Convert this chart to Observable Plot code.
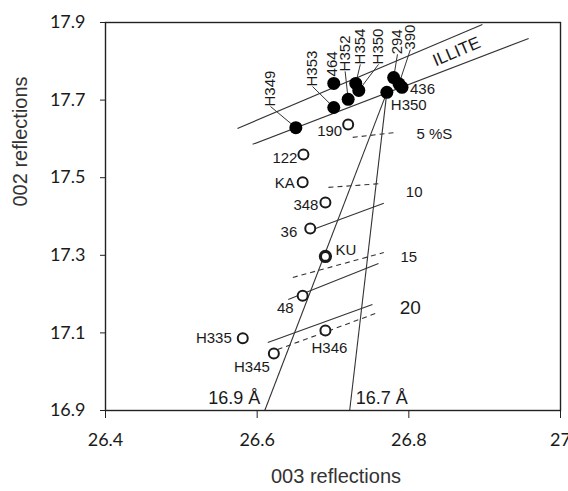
<!DOCTYPE html>
<html>
<head>
<meta charset="utf-8">
<script src="https://cdn.jsdelivr.net/npm/d3@7"></script>
<script src="https://cdn.jsdelivr.net/npm/@observablehq/plot@0.6"></script>
<style>
  html, body { margin: 0; padding: 0; background: #fff; }
</style>
</head>
<body>
<div id="chart"></div>
<script>
// ---------- data ----------
const xTicks = [26.4, 26.6, 26.8, 27.0];
const yTicks = [16.9, 17.1, 17.3, 17.5, 17.7, 17.9];

// filled (illite-rich) samples
const filledNames = ["H349", "H353", "464", "H352", "H354", "H350", "294", "390", "436", "H350b"];
const filledX = [26.651, 26.701, 26.701, 26.720, 26.730, 26.734, 26.780, 26.787, 26.791, 26.771];
const filledY = [17.629, 17.681, 17.743, 17.702, 17.743, 17.725, 17.758, 17.742, 17.733, 17.720];

// open (mixed-layer) samples
const openNames = ["190", "122", "KA", "348", "36", "KU", "48", "H346", "H335", "H345"];
const openX = [26.720, 26.661, 26.660, 26.690, 26.670, 26.690, 26.660, 26.690, 26.581, 26.622];
const openY = [17.637, 17.560, 17.488, 17.436, 17.369, 17.297, 17.196, 17.106, 17.086, 17.047];

// reference lines (endpoints in data units)
const illiteUpper = [[26.574, 17.627], [26.897, 17.895]];
const illiteLower = [[26.594, 17.586], [26.958, 17.859]];
const line169 = [[26.610, 16.900], [26.771, 17.720]];
const line167 = [[26.722, 16.900], [26.771, 17.720]];
const solidMix = [
  [[26.677, 17.369], [26.767, 17.434]],
  [[26.641, 17.186], [26.760, 17.279]],
  [[26.614, 17.075], [26.752, 17.173]]
];
const dashedMix = [
  [[26.726, 17.604], [26.785, 17.617]],
  [[26.694, 17.475], [26.765, 17.485]],
  [[26.647, 17.243], [26.767, 17.307]],
  [[26.627, 17.057], [26.756, 17.150]]
];

// rotated labels of filled samples: anchor of the label foot
const rotLabels = ["H349", "H353", "464", "H352", "H354", "H350", "294", "390"];
const rotLabelX = [26.6176, 26.673, 26.699, 26.716, 26.736, 26.760, 26.785, 26.802];
const rotLabelY = [17.6835, 17.735, 17.761, 17.774, 17.792, 17.792, 17.818, 17.830];
const leaderOf = ["H349", "H353", "H352", "H354", "H350", "294", "390"];

// %S annotations
const pctText = ["5 %S", "10", "15", "20"];
const pctX = [26.810, 26.807, 26.800, 26.802];
const pctY = [17.611, 17.462, 17.294, 17.165];

const dText = ["16.9 Å", "16.7 Å"];
const dX = [26.604, 26.730];
const dY = [16.931, 16.931];

const illiteLabel = {text: "ILLITE", x: 26.863, y: 17.825};

// ---------- layout of point labels (pixels) ----------
const openLayout = {
  "190": {dx: -6, dy: 7, a: "end"},
  "122": {dx: -6, dy: 4, a: "end"},
  "KA": {dx: -8, dy: 1, a: "end"},
  "348": {dx: -7, dy: 3, a: "end"},
  "36": {dx: -13, dy: 4, a: "end"},
  "KU": {dx: 10, dy: -6, a: "start"},
  "48": {dx: -9, dy: 13, a: "end"},
  "H346": {dx: 4, dy: 18, a: "middle"},
  "H335": {dx: -11, dy: 0, a: "end"},
  "H345": {dx: -4, dy: 14, a: "end"}
};
const sideLabels = [
  {name: "436", point: "436", dx: 8, dy: 2},
  {name: "H350", point: "H350b", dx: 4, dy: 13}
];

// ---------- build tables ----------
const filled = filledNames.map((n, i) => ({name: n, x: filledX[i], y: filledY[i]}));
const open = openNames.map((n, i) => ({name: n, x: openX[i], y: openY[i]}));
const rot = rotLabels.map((n, i) => ({name: n, x: rotLabelX[i], y: rotLabelY[i]}));
const leaders = leaderOf.map(n => {
  const l = rot.find(d => d.name === n);
  const p = filled.find(d => d.name === n);
  return {x1: l.x, y1: l.y, x2: p.x, y2: p.y};
});
const seg = (s) => ({x1: s[0][0], y1: s[0][1], x2: s[1][0], y2: s[1][1]});
const solidSegs = [illiteUpper, illiteLower, line169, line167, ...solidMix].map(seg);
const dashedSegs = dashedMix.map(seg);

const sans = "Liberation Sans, Arial, sans-serif";
const ink = "#1a1a1a";

const textMarks = [];
for (const a of ["end", "start", "middle"]) {
  for (const d of open) {
    const L = openLayout[d.name];
    if (L.a !== a) continue;
    textMarks.push(Plot.text([d], {x: "x", y: "y", text: "name", dx: L.dx, dy: L.dy,
      textAnchor: a, fontSize: 15, fontFamily: sans, fill: ink}));
  }
}
for (const s of sideLabels) {
  const p = filled.find(d => d.name === s.point);
  textMarks.push(Plot.text([{...p, label: s.name}], {x: "x", y: "y", text: "label", dx: s.dx, dy: s.dy,
    textAnchor: "start", fontSize: 15, fontFamily: sans, fill: ink}));
}

const chart = Plot.plot({
  width: 568,
  height: 491,
  marginLeft: 105,
  marginRight: 8,
  marginTop: 22,
  marginBottom: 81,
  style: {fontFamily: "Lato, sans-serif", fontSize: "18px", background: "#fff", color: ink},
  x: {domain: [26.4, 27.0]},
  y: {domain: [16.9, 17.9]},
  marks: [
    Plot.link(solidSegs, {x1: "x1", y1: "y1", x2: "x2", y2: "y2", stroke: "#333", strokeWidth: 1.1}),
    Plot.link(dashedSegs, {x1: "x1", y1: "y1", x2: "x2", y2: "y2", stroke: "#333", strokeWidth: 1.1, strokeDasharray: "5,4"}),
    Plot.link(leaders, {x1: "x1", y1: "y1", x2: "x2", y2: "y2", stroke: "#333", strokeWidth: 1}),
    Plot.frame({stroke: "#222", strokeWidth: 1.4}),
    Plot.axisX(xTicks, {tickSize: 8, tickPadding: 15, label: null, fontSize: 18,
      tickFormat: d => d === 27 ? "27" : d.toFixed(1), stroke: "#222"}),
    Plot.axisY(yTicks, {tickSize: 5, tickPadding: 15, label: null, fontSize: 18,
      tickFormat: d => d.toFixed(1), stroke: "#222"}),
    Plot.dot(open.filter(d => d.name !== "KU"), {x: "x", y: "y", r: 5, stroke: ink, strokeWidth: 2, fill: "#fff"}),
    Plot.dot(open.filter(d => d.name === "KU"), {x: "x", y: "y", r: 5, stroke: ink, strokeWidth: 3.2, fill: "#fff"}),
    Plot.dot(filled, {x: "x", y: "y", r: 6.5, fill: "#000", stroke: "none"}),
    Plot.text(rot, {x: "x", y: "y", text: "name", rotate: -90, textAnchor: "start", lineAnchor: "middle",
      fontSize: 15, fontFamily: sans, fill: ink}),
    ...textMarks,
    Plot.text(pctText.map((t, i) => ({t, x: pctX[i], y: pctY[i]})).slice(0, 1), {x: "x", y: "y", text: "t",
      textAnchor: "start", fontSize: 15, fontFamily: sans, fill: ink}),
    Plot.text(pctText.map((t, i) => ({t, x: pctX[i], y: pctY[i]})).slice(1, 3), {x: "x", y: "y", text: "t",
      textAnchor: "middle", fontSize: 15, fontFamily: sans, fill: ink}),
    Plot.text(pctText.map((t, i) => ({t, x: pctX[i], y: pctY[i]})).slice(3), {x: "x", y: "y", text: "t",
      textAnchor: "middle", fontSize: 19, fontFamily: sans, fill: ink}),
    Plot.text(dText.map((t, i) => ({t, x: dX[i], y: dY[i]})).slice(0, 1), {x: "x", y: "y", text: "t",
      textAnchor: "end", fontSize: 18, fontFamily: sans, fill: ink}),
    Plot.text(dText.map((t, i) => ({t, x: dX[i], y: dY[i]})).slice(1), {x: "x", y: "y", text: "t",
      textAnchor: "start", fontSize: 18, fontFamily: sans, fill: ink}),
    Plot.text([illiteLabel], {x: "x", y: "y", text: "text", rotate: -23, fontSize: 17, fontFamily: sans, fill: ink}),
    Plot.text(["003 reflections"], {frameAnchor: "bottom", dx: 3, dy: 72, fontSize: 20, fontFamily: sans, fill: "#333"}),
    Plot.text(["002 reflections"], {frameAnchor: "left", dx: -85, dy: -10, rotate: -90, fontSize: 20, fontFamily: sans, fill: "#333"})
  ]
});
document.getElementById("chart").appendChild(chart);
</script>
</body>
</html>
